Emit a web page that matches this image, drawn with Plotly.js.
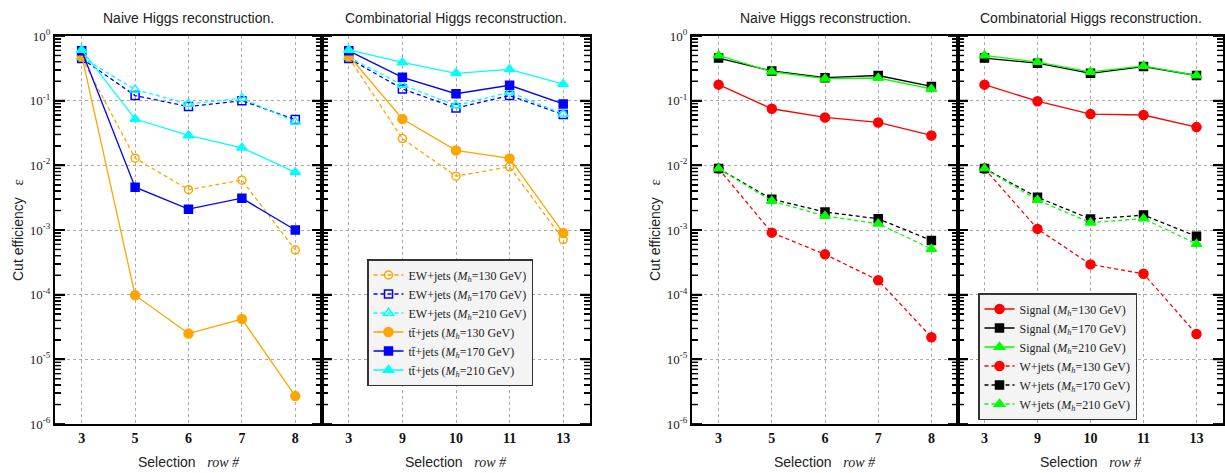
<!DOCTYPE html>
<html><head><meta charset="utf-8">
<script src="https://cdn.plot.ly/plotly-3.0.1.min.js"></script>
<style>html,body{margin:0;padding:0;background:#fff}#plot{width:1225px;height:473px}</style>
</head><body><div id="plot"></div>
<script>
// Categories (selection rows)
const catsNaive = ['3','5','6','7','8'];
const catsComb = ['3','9','10','11','13'];
// Left figure: backgrounds
const ew130Naive = [0.46, 0.0129, 0.0042, 0.0059, 0.00049];
const ew170Naive = [0.45, 0.12, 0.081, 0.10, 0.051];
const ew210Naive = [0.47, 0.148, 0.089, 0.109, 0.047];
const tt130Naive = [0.50, 0.000098, 0.000025, 0.000042, 0.0000027];
const tt170Naive = [0.59, 0.0046, 0.0021, 0.0031, 0.0010];
const tt210Naive = [0.61, 0.052, 0.029, 0.0187, 0.0078];
const ew130Comb = [0.46, 0.0259, 0.0068, 0.0095, 0.00071];
const ew170Comb = [0.45, 0.152, 0.077, 0.12, 0.061];
const ew210Comb = [0.47, 0.175, 0.084, 0.135, 0.062];
const tt130Comb = [0.50, 0.052, 0.017, 0.0128, 0.00090];
const tt170Comb = [0.59, 0.23, 0.128, 0.173, 0.089];
const tt210Comb = [0.61, 0.39, 0.265, 0.305, 0.18];
// Right figure: signal and W+jets
const sig130Naive = [0.177, 0.075, 0.055, 0.046, 0.029];
const sig170Naive = [0.455, 0.288, 0.227, 0.245, 0.166];
const sig210Naive = [0.50, 0.28, 0.219, 0.224, 0.152];
const w130Naive = [0.0089, 0.00091, 0.00042, 0.000167, 0.000022];
const w170Naive = [0.0089, 0.0030, 0.0019, 0.00149, 0.00069];
const w210Naive = [0.0089, 0.0028, 0.00165, 0.00125, 0.00051];
const sig130Comb = [0.177, 0.098, 0.062, 0.060, 0.039];
const sig170Comb = [0.455, 0.38, 0.265, 0.337, 0.245];
const sig210Comb = [0.50, 0.395, 0.278, 0.344, 0.245];
const w130Comb = [0.0089, 0.00104, 0.000294, 0.00021, 0.0000246];
const w170Comb = [0.0089, 0.0032, 0.00148, 0.0017, 0.00080];
const w210Comb = [0.0089, 0.0029, 0.0013, 0.0015, 0.00061];
// Tick labels
const yTickVals = [1, 0.1, 0.01, 0.001, 0.0001, 0.00001, 0.000001];
const yTickText = ['10<sup>0</sup>','10<sup>-1</sup>','10<sup>-2</sup>','10<sup>-3</sup>','10<sup>-4</sup>','10<sup>-5</sup>','10<sup>-6</sup>'];
const yMinorVals = [];
for (let e = -6; e < 0; e++) for (let m = 2; m <= 9; m++) yMinorVals.push(m * Math.pow(10, e));

const mh = m => ' (<i>M<sub>h</sub></i>=' + m + ' GeV)';
const ttName = 't\u0074\u0304+jets';
const DASH = '4px,3px';

function tr(x, y, xa, ya, color, symbol, dash, name, legend, show, group, size) {
  return {
    x: x, y: y, xaxis: xa, yaxis: ya, type: 'scatter', mode: 'lines+markers',
    name: name, legend: legend, showlegend: show, legendgroup: group,
    line: {color: color, width: 1.3, dash: dash},
    marker: {color: color, symbol: symbol, size: size || 8, line: {color: color, width: 1.5}}
  };
}

const traces = [];
const leftSeries = [
  [ew130Naive, ew130Comb, '#FFA500', 'circle-open', DASH, 'EW+jets' + mh(130), 8],
  [ew170Naive, ew170Comb, '#0000FF', 'square-open', DASH, 'EW+jets' + mh(170), 8],
  [ew210Naive, ew210Comb, '#00FFFF', 'triangle-up-open', DASH, 'EW+jets' + mh(210), 9],
  [tt130Naive, tt130Comb, '#FFA500', 'circle', 'solid', ttName + mh(130), 9],
  [tt170Naive, tt170Comb, '#0000FF', 'square', 'solid', ttName + mh(170), 8],
  [tt210Naive, tt210Comb, '#00FFFF', 'triangle-up', 'solid', ttName + mh(210), 9]
];
leftSeries.forEach((s, i) => {
  traces.push(tr(catsNaive, s[0], 'x', 'y', s[2], s[3], s[4], s[5], 'legend', true, 'L' + i, s[6]));
  traces.push(tr(catsComb, s[1], 'x2', 'y2', s[2], s[3], s[4], s[5], 'legend', false, 'L' + i, s[6]));
});
const rightSeries = [
  [sig130Naive, sig130Comb, '#FF0000', 'circle', 'solid', 'Signal' + mh(130), 9],
  [sig170Naive, sig170Comb, '#000000', 'square', 'solid', 'Signal' + mh(170), 8],
  [sig210Naive, sig210Comb, '#00FF00', 'triangle-up', 'solid', 'Signal' + mh(210), 9],
  [w130Naive, w130Comb, '#FF0000', 'circle', DASH, 'W+jets' + mh(130), 9],
  [w170Naive, w170Comb, '#000000', 'square', DASH, 'W+jets' + mh(170), 8],
  [w210Naive, w210Comb, '#00FF00', 'triangle-up', DASH, 'W+jets' + mh(210), 9]
];
rightSeries.forEach((s, i) => {
  traces.push(tr(catsNaive, s[0], 'x3', 'y3', s[2], s[3], s[4], s[5], 'legend2', true, 'R' + i, s[6]));
  traces.push(tr(catsComb, s[1], 'x4', 'y4', s[2], s[3], s[4], s[5], 'legend2', false, 'R' + i, s[6]));
});

const W = 1225, H = 473;
const yDom = [(H - 424) / H, (H - 36) / H];
const serif = 'Liberation Serif, Times New Roman, serif';
const sans = 'Liberation Sans, Arial, sans-serif';
const panels = [[55, 322], [322, 590], [692, 958], [958, 1223]];

function xax(domPx, cats, anchor) {
  return {
    domain: [domPx[0] / W, domPx[1] / W], anchor: anchor, type: 'category',
    categoryorder: 'array', categoryarray: cats, range: [-0.5, 4.5],
    showline: true, linecolor: '#000', linewidth: 2, mirror: true,
    showgrid: true, gridcolor: '#aaa', griddash: 'dot', gridwidth: 1,
    ticks: '', zeroline: false,
    tickfont: {family: serif, size: 14, color: '#111', weight: 'bold'}
  };
}
function yax(anchor, labels) {
  return {
    domain: yDom, anchor: anchor, type: 'log', range: [-6, 0],
    tickmode: 'array', tickvals: yTickVals, ticktext: yTickText, showticklabels: labels,
    showline: true, linecolor: '#000', linewidth: 2, mirror: 'allticks',
    ticks: 'inside', ticklen: 10, tickwidth: 1.8, tickcolor: '#000',
    minor: {tickmode: 'array', tickvals: yMinorVals, ticks: 'inside', ticklen: 6, tickwidth: 1.4, tickcolor: '#000', showgrid: false},
    showgrid: true, gridcolor: '#aaa', griddash: 'dot', gridwidth: 1, zeroline: false,
    tickfont: {family: serif, size: 13, color: '#222'}
  };
}

// Extra tick marks drawn as shapes (same positions, both sides of each panel)
const shapes = [];
const logFrac = v => (Math.log10(v) + 6) / 6;
panels.forEach((p, i) => {
  const xr = (i === 0 ? 'x' : 'x' + (i + 1)) + ' domain';
  const yr = (i === 0 ? 'y' : 'y' + (i + 1)) + ' domain';
  const wpx = p[1] - p[0];
  const add = (v, len, w) => {
    const f = logFrac(v), d = len / wpx;
    shapes.push({type: 'line', xref: xr, yref: yr, x0: 0, x1: d, y0: f, y1: f, line: {color: '#000', width: w}});
    shapes.push({type: 'line', xref: xr, yref: yr, x0: 1 - d, x1: 1, y0: f, y1: f, line: {color: '#000', width: w}});
  };
  yTickVals.forEach(v => add(v, 10, 1.8));
  yMinorVals.forEach(v => add(v, 6, 1.4));
});

const titles = ['Naive Higgs reconstruction.', 'Combinatorial Higgs reconstruction.', 'Naive Higgs reconstruction.', 'Combinatorial Higgs reconstruction.'];
const annotations = [];
panels.forEach((p, i) => {
  const cx = (p[0] + p[1]) / 2 / W;
  annotations.push({text: titles[i], x: cx, y: (H - 18) / H, xref: 'paper', yref: 'paper',
    showarrow: false, xanchor: 'center', yanchor: 'middle', font: {family: sans, size: 14, color: '#222'}});
  annotations.push({text: 'Selection   <span style="font-family:Liberation Serif;font-style:italic">row #</span>',
    x: cx, y: (H - 462) / H, xref: 'paper', yref: 'paper', showarrow: false,
    xanchor: 'center', yanchor: 'middle', font: {family: sans, size: 14, color: '#222'}});
});
[18, 655].forEach(px => {
  annotations.push({text: 'Cut efficiency   <span style="font-family:Liberation Serif;font-size:15px">\u03b5</span>',
    x: px / W, y: (H - 230) / H, xref: 'paper', yref: 'paper', showarrow: false, textangle: -90,
    xanchor: 'center', yanchor: 'middle', font: {family: sans, size: 14, color: '#222'}});
});

const legendBase = {
  bgcolor: '#f4f4f4', bordercolor: '#333', borderwidth: 1.5,
  font: {family: serif, size: 12, color: '#222'}, xanchor: 'left', yanchor: 'top',
  itemwidth: 30, tracegroupgap: 0, traceorder: 'normal'
};

const layout = {
  width: W, height: H, margin: {l: 0, r: 0, t: 0, b: 0},
  paper_bgcolor: '#fff', plot_bgcolor: '#fff',
  xaxis: xax(panels[0], catsNaive, 'y'),
  xaxis2: xax(panels[1], catsComb, 'y2'),
  xaxis3: xax(panels[2], catsNaive, 'y3'),
  xaxis4: xax(panels[3], catsComb, 'y4'),
  yaxis: yax('x', true),
  yaxis2: yax('x2', false),
  yaxis3: yax('x3', true),
  yaxis4: yax('x4', false),
  legend: Object.assign({}, legendBase, {x: 367 / W, y: (H - 259) / H}),
  legend2: Object.assign({}, legendBase, {x: 978 / W, y: (H - 293) / H}),
  shapes: shapes,
  annotations: annotations
};

Plotly.newPlot('plot', traces, layout, {staticPlot: true, displayModeBar: false});
</script>
</body></html>
